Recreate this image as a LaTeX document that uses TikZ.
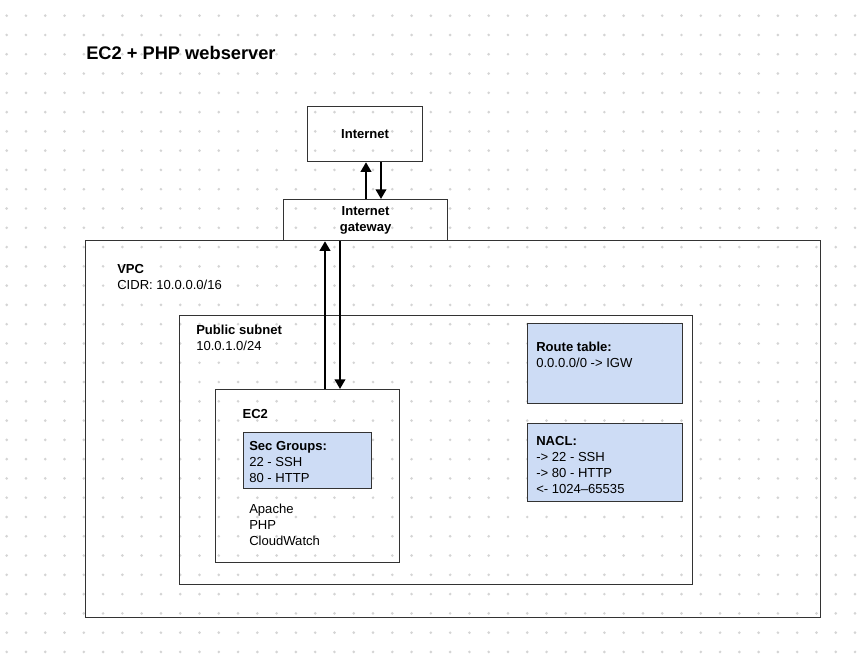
\documentclass[tikz,border=0pt]{standalone}
\usepackage{fontspec}
\setmainfont{Liberation Sans}
\usetikzlibrary{arrows.meta}

\definecolor{boxline}{HTML}{333333}
\definecolor{gridDot}{HTML}{D4D4D4}
\definecolor{infoBlue}{HTML}{CDDCF5}

\tikzset{
  frame/.style={draw=boxline, line width=0.9pt, inner sep=0pt, anchor=north west},
  infobox/.style={frame, fill=infoBlue},
  lbl/.style={anchor=north west, inner sep=0pt, align=left, font=\fontsize{9.8}{12}\selectfont},
  flow/.style={line width=1.7pt, -{Triangle[length=7.2pt,width=7.8pt]}},
}

\begin{document}
\begin{tikzpicture}[x=0.75pt,y=-0.75pt]
\useasboundingbox (0,0) rectangle (858,664);

% dotted canvas
\foreach \i in {0,...,44}
  \foreach \j in {0,...,33}
    \fill[gridDot] (6.7+19.28*\i,15.7+19.28*\j) circle (1.1pt);

\node[anchor=base west, inner sep=0pt, font=\bfseries\fontsize{13.7}{16}\selectfont] (title) at (86,59.3) {EC2 + PHP webserver};

% outer boxes
\node[frame, minimum width=86.25pt, minimum height=41.25pt, anchor=north west] (internet) at (307,106) {};
\node[font=\bfseries\fontsize{9.8}{12}\selectfont] (internetlbl) at (internet.center) {Internet};
\node[frame, minimum width=123pt, minimum height=30.75pt] (gateway) at (283,199) {};
\node[align=center, inner sep=0pt, font=\bfseries\fontsize{9.8}{12}\selectfont] (gatewaylbl) at (gateway.center) {Internet\\gateway};

\node[frame, minimum width=551.25pt, minimum height=282.75pt] (vpc) at (85,240) {};
\node[lbl] (vpclbl) at (117,264) {\textbf{VPC}\\CIDR: 10.0.0.0/16};

\node[frame, minimum width=384.75pt, minimum height=201.75pt] (subnet) at (179,315) {};
\node[lbl] (subnetlbl) at (196,324.6) {\textbf{Public subnet}\\10.0.1.0/24};

% instance
\node[frame, minimum width=138pt, minimum height=129.75pt] (ec2) at (215,389) {};
\node[lbl] (ec2lbl) at (242.3,409.6) {\textbf{EC2}};
\node[infobox, minimum width=96pt, minimum height=42pt] (secgrp) at (243,432) {};
\node[lbl] (secgrplbl) at (249,441.6) {\textbf{Sec Groups:}\\22 - SSH\\80 - HTTP};
\node[lbl] (software) at (249,503.3) {Apache\\PHP\\CloudWatch};

% routing info
\node[infobox, minimum width=116.25pt, minimum height=60pt] (route) at (527,323) {};
\node[lbl] (routelbl) at (536,341.6) {\textbf{Route table:}\\0.0.0.0/0 -> IGW};
\node[infobox, minimum width=116.25pt, minimum height=58.5pt] (nacl) at (527,423) {};
\node[lbl] (nacllbl) at (536,436.6) {\textbf{NACL:}\\-> 22 - SSH\\-> 80 - HTTP\\<- 1024--65535};

% traffic
\coordinate (upA) at (366,0);
\coordinate (dnA) at (381,0);
\coordinate (upB) at (325,0);
\coordinate (dnB) at (340,0);
\draw[flow] (upA |- gateway.north) -- (upA |- internet.south);
\draw[flow] (dnA |- internet.south) -- (dnA |- gateway.north);
\draw[flow] (upB |- ec2.north) -- (upB |- gateway.south);
\draw[flow] (dnB |- gateway.south) -- (dnB |- ec2.north);
\end{tikzpicture}
\end{document}
